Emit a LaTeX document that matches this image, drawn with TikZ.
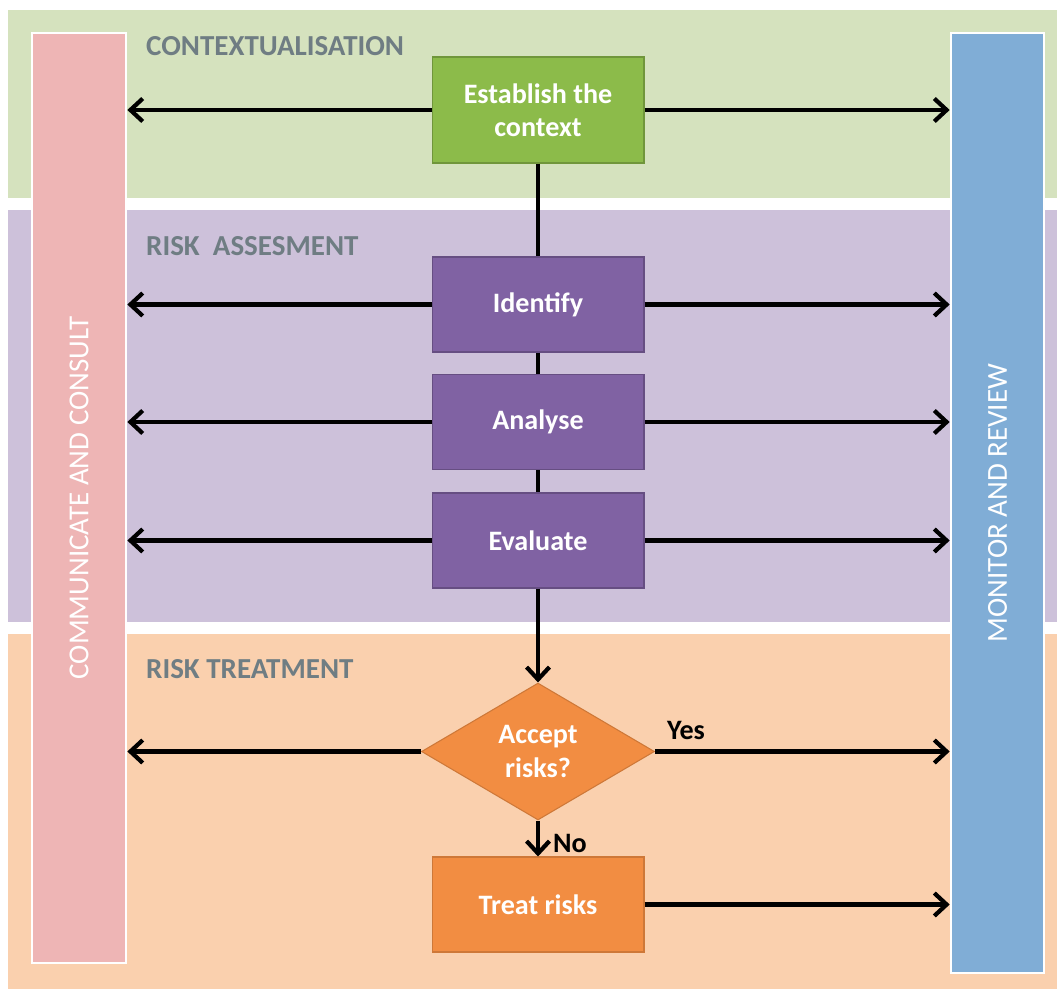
\documentclass[tikz,border=0pt]{standalone}
\usepackage{fontspec}
\setmainfont{Carlito}
\usetikzlibrary{shapes.geometric,arrows.meta}
\definecolor{ctxband}{HTML}{D5E2BE}
\definecolor{riskband}{HTML}{CDC1DA}
\definecolor{treatband}{HTML}{FAD0AE}
\definecolor{commbar}{HTML}{EEB5B5}
\definecolor{monbar}{HTML}{80ADD6}
\definecolor{ctxfill}{HTML}{8CBB4A}
\definecolor{riskfill}{HTML}{8062A3}
\definecolor{treatfill}{HTML}{F28D42}
\definecolor{labelgray}{HTML}{6F7D83}
\begin{document}
\begin{tikzpicture}[x=0.02cm,y=-0.02cm,
  >={Straight Barb[length=7pt,width=13pt]},
  box/.style={draw,line width=0.6pt,minimum width=4.24cm,minimum height=1.9cm,
    text=white,font=\bfseries\fontsize{16}{19}\selectfont,align=center},
  bar/.style={draw=white,line width=1.5pt,minimum width=1.88cm,inner sep=0pt},
  barlabel/.style={rotate=90,text=white,font=\fontsize{16.5}{18}\selectfont},
  band/.style={font=\bfseries\fontsize{16.5}{19}\selectfont,text=labelgray,anchor=west},
  flow/.style={line width=2.4pt},
  arr/.style={line width=2.4pt,->}]
 \useasboundingbox (0,0) rectangle (1057,989);
 \fill[white] (0,0) rectangle (1057,989);
 % bands
 \fill[ctxband] (8,10) rectangle (1057,198);
 \fill[riskband] (8,210) rectangle (1057,622);
 \fill[treatband] (8,634) rectangle (1057,989);
 \node[band] at (140,46) {CONTEXTUALISATION};
 \node[band] at (140,246) {RISK\ \ ASSESMENT};
 \node[band] at (140,669) {RISK TREATMENT};
 % side bars
 \node[bar,fill=commbar,minimum height=18.6cm] (comm) at (79,498) {};
 \node[barlabel] at (comm) {COMMUNICATE AND CONSULT};
 \node[bar,fill=monbar,minimum width=1.86cm,minimum height=18.8cm] (mon) at (997.5,503) {};
 \node[barlabel] at (mon) {MONITOR AND REVIEW};
 % process steps
 \node[box,fill=ctxfill,draw=ctxfill!80!black,minimum height=2.12cm] (ctx) at (538,110) {Establish the\\context};
 \node[box,fill=riskfill,draw=riskfill!80!black] (ident) at (538,304.5) {Identify};
 \node[box,fill=riskfill,draw=riskfill!80!black] (anal) at (538,422) {Analyse};
 \node[box,fill=riskfill,draw=riskfill!80!black] (eval) at (538,540.5) {Evaluate};
 \node[box,diamond,aspect=1.7,minimum width=4.66cm,minimum height=2.74cm,inner sep=0pt,
   fill=treatfill,draw=treatfill!85!black] (accept) at (538,751.5) {Accept\\risks?};
 \node[box,fill=treatfill,draw=treatfill!85!black] (treat) at (538,904.5) {Treat risks};
 % flow
 \draw[flow] (ctx) -- (ident);
 \draw[flow] (ident) -- (anal);
 \draw[flow] (anal) -- (eval);
 \draw[arr] (eval) -- (accept);
 \draw[arr] (accept) -- node[right,font=\bfseries\fontsize{16}{19}\selectfont,xshift=4pt,yshift=-3pt] {No} (treat);
 % to the side bars
 \foreach \n in {ctx,ident,anal,eval,accept} {
   \draw[arr] (\n.west) -- (\n.west -| comm.east);
   \draw[arr] (\n.east) -- (\n.east -| mon.west);
 }
 \draw[arr] (treat.east) -- (treat.east -| mon.west);
 \node[font=\bfseries\fontsize{16}{19}\selectfont] (yes) at (686,730) {Yes};
\end{tikzpicture}
\end{document}
